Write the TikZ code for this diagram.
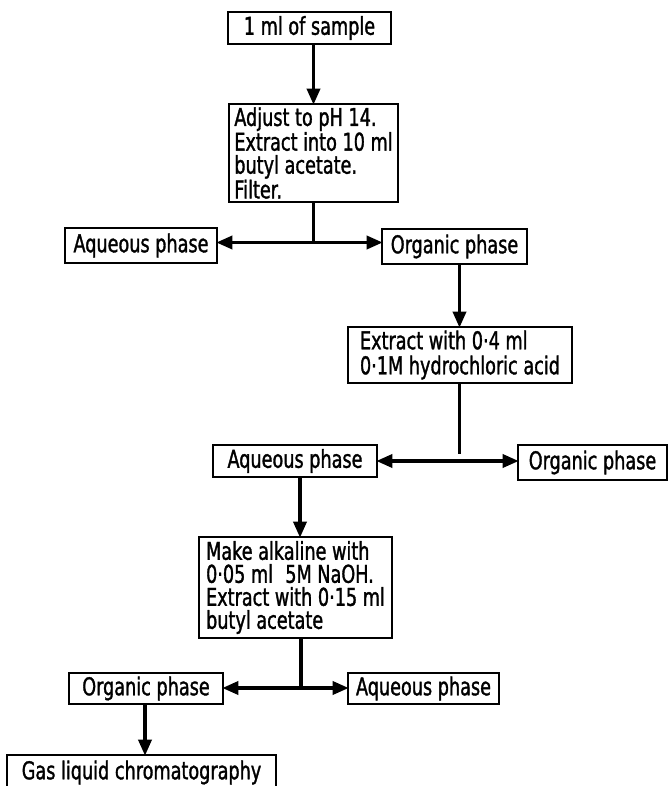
\documentclass[tikz,border=0pt]{standalone}
\usepackage{fontspec}
\setmainfont[FakeStretch=0.72,FakeBold=1.3]{DejaVu Sans}
\usetikzlibrary{arrows.meta}
\begin{document}
\begin{tikzpicture}[x=1pt,y=-1pt,
  every node/.style={inner sep=0pt, outer sep=0pt},
  box/.style={draw, line width=1.4pt, align=left, font=\fontsize{24.5}{23}\selectfont},
  link/.style={line width=3.4pt},
  arr/.style={line width=3.4pt, -{Triangle[length=16pt,width=13pt]}, shorten >=-0.7pt}]
\useasboundingbox (0,0) rectangle (669,786);
% boxes
\node[box, minimum width=163pt, minimum height=32pt] (b1) at (309.5,28) {1 ml of sample};
\node[box, minimum width=169pt, minimum height=98pt] (b2) at (313.5,153) {Adjust to pH 14.\\Extract into 10 ml\\butyl acetate.\\Filter.};
\node[box, minimum width=152pt, minimum height=35pt] (aq1) at (141,245.5) {Aqueous phase};
\node[box, minimum width=145pt, minimum height=35pt] (or1) at (454.5,246.5) {Organic phase};
\node[box, minimum width=224pt, minimum height=56pt, font=\fontsize{24.5}{25}\selectfont] (b3) at (460,355) {Extract with 0·4 ml\\0·1M hydrochloric acid};
\node[box, minimum width=164pt, minimum height=32pt] (aq2) at (295,461) {Aqueous phase};
\node[box, minimum width=149pt, minimum height=35pt] (or2) at (592.5,462.5) {Organic phase};
\node[box, minimum width=193pt, minimum height=101pt] (b4) at (295.5,587.5) {Make alkaline with\\0·05 ml\enspace 5M NaOH.\\Extract with 0·15 ml\\butyl acetate};
\node[box, minimum width=154pt, minimum height=31pt] (or3) at (146,688.5) {Organic phase};
\node[box, minimum width=151pt, minimum height=31pt] (aq3) at (423.5,688.5) {Aqueous phase};
\node[box, minimum width=269pt, minimum height=35pt, anchor=north west] (glc) at (7,755) {Gas liquid chromatography};
% junctions
\coordinate (j1) at (313.5,242.5);
\coordinate (j2) at (459.5,461);
\coordinate (j3) at (301,688);
% connectors
\draw[arr] (b2.north |- b1.south) -- (b2.north);
\draw[link] (b2.south) -- (j1);
\draw[arr] (j1) -- (j1 -| aq1.east);
\draw[arr] (j1) -- (j1 -| or1.west);
\draw[arr] (j2 |- or1.south) -- (j2 |- b3.north);
\draw[link] (j2 |- b3.south) -- ([yshift=7pt]j2);
\draw[arr] (j2) -- (j2 -| aq2.east);
\draw[arr] (j2) -- (j2 -| or2.west);
\draw[arr] ([xshift=5pt]aq2.south) -- ([xshift=5pt]aq2.south |- b4.north);
\draw[link] (j3 |- b4.south) -- (j3);
\draw[arr] (j3) -- (j3 -| or3.east);
\draw[arr] (j3) -- (j3 -| aq3.west);
\draw[arr] ([xshift=-1pt]or3.south) -- ([xshift=-1pt]or3.south |- glc.north);
\end{tikzpicture}
\end{document}
